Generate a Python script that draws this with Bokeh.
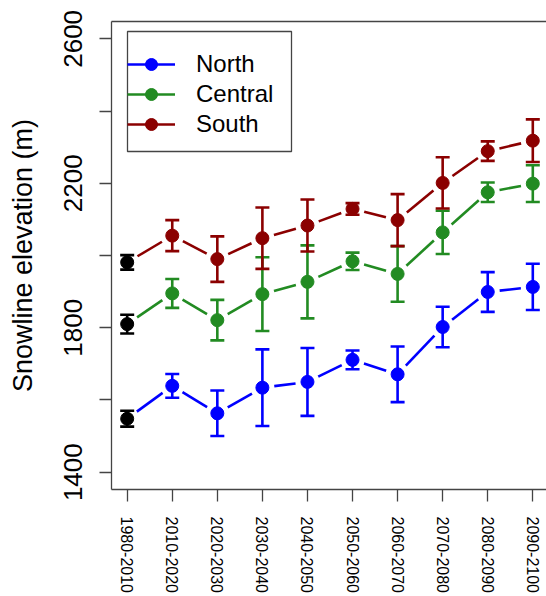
import math
from bokeh.plotting import figure
from bokeh.models import (Range1d, FixedTicker, LinearAxis, Legend, LegendItem,
                          ColumnDataSource, BoxAnnotation)
from bokeh.embed import file_html
from bokeh.resources import INLINE

# ---- data ----
periods = ["1980-2010", "2010-2020", "2020-2030", "2030-2040", "2040-2050",
           "2050-2060", "2060-2070", "2070-2080", "2080-2090", "2090-2100"]
north = [1548, 1639, 1563, 1634, 1650, 1711, 1671, 1802, 1899, 1913]
north_err = [22, 33, 63, 106, 94, 26, 77, 56, 55, 64]
central = [1810, 1895, 1821, 1893, 1927, 1984, 1949, 2064, 2175, 2199]
central_err = [26, 40, 56, 102, 101, 24, 77, 60, 27, 51]
south = [1981, 2055, 1990, 2048, 2083, 2129, 2098, 2201, 2289, 2318]
south_err = [20, 43, 63, 85, 72, 16, 72, 71, 27, 59]
series_names = ["North", "Central", "South"]
series_colors = ["#0000FF", "#228B22", "#8B0000"]
y_ticks = [1400, 1600, 1800, 2000, 2200, 2400, 2600]
y_labeled = [1400, 1800, 2200, 2600]

FONT = "Liberation Sans"
AXC = "#444444"

W, H = 546, 596
BL, BR, BT, BB = 111, 0, 21, 104
FW, FH = W - BL - BR, H - BT - BB
X0, X1 = 0.652, 10.304
Y0, Y1 = 1352, 2648

xs = list(range(1, len(periods) + 1))

p = figure(width=W, height=H, output_backend="svg", toolbar_location=None,
           x_range=Range1d(X0, X1), y_range=Range1d(Y0, Y1),
           min_border_left=BL, min_border_right=BR, min_border_top=BT,
           min_border_bottom=BB, background_fill_color="white",
           border_fill_color="white", outline_line_color=None)
p.xgrid.visible = False
p.ygrid.visible = False

# y axis
ya = p.yaxis[0]
ya.ticker = FixedTicker(ticks=y_ticks)
ya.major_label_overrides = {t: (str(t) if t in y_labeled else "") for t in y_ticks}
ya.major_label_orientation = "vertical"
ya.axis_label = "Snowline elevation (m)"
ya.axis_label_text_font = FONT
ya.axis_label_text_font_style = "normal"
ya.axis_label_text_font_size = "27px"
ya.axis_label_text_color = "black"
ya.axis_label_standoff = 24
ya.major_label_text_font = FONT
ya.major_label_text_font_size = "26px"
ya.major_label_text_color = "black"
ya.major_label_standoff = 17

# x axis
xa = p.xaxis[0]
xa.ticker = FixedTicker(ticks=xs)
xa.major_label_overrides = {i: lab for i, lab in zip(xs, periods)}
xa.major_label_orientation = "vertical"
xa.major_label_text_font = FONT
xa.major_label_text_font_size = "16px"
xa.major_label_text_color = "black"
xa.major_label_standoff = 15

for ax in (ya, xa):
    ax.minor_tick_line_color = None
    ax.major_tick_in = 0
    ax.major_tick_out = 12
    ax.major_tick_line_color = AXC
    ax.major_tick_line_width = 1.3
    ax.axis_line_color = AXC
    ax.axis_line_width = 1.3

top = LinearAxis(ticker=FixedTicker(ticks=[]), major_label_text_font_size="0px",
                 major_tick_out=0, major_tick_in=0, minor_tick_out=0, minor_tick_in=0,
                 axis_line_color=AXC, axis_line_width=1.3)
p.add_layout(top, "above")

all_vals = [north, central, south]
all_errs = [north_err, central_err, south_err]

# pixel scales (for R type="b" gaps between line segments and points)
sxp = FW / (X1 - X0)
syp = FH / (Y1 - Y0)
GAP = 12.0

lines = []
for vals, col in zip(all_vals, series_colors):
    a0, b0, a1, b1 = [], [], [], []
    for i in range(len(xs) - 1):
        dx, dy = xs[i + 1] - xs[i], vals[i + 1] - vals[i]
        L = math.hypot(dx * sxp, dy * syp)
        f = GAP / L
        a0.append(xs[i] + dx * f)
        b0.append(vals[i] + dy * f)
        a1.append(xs[i + 1] - dx * f)
        b1.append(vals[i + 1] - dy * f)
    lines.append(p.segment(x0=a0, y0=b0, x1=a1, y1=b1, line_color=col, line_width=2.6))

markers = []
for vals, errs, col in zip(all_vals, all_errs, series_colors):
    lo = [v - e for v, e in zip(vals, errs)]
    hi = [v + e for v, e in zip(vals, errs)]
    cols = ["black"] + [col] * (len(vals) - 1)
    src = ColumnDataSource(dict(x=xs, lo=lo, hi=hi, c=cols, y=vals))
    p.segment(x0="x", y0="lo", x1="x", y1="hi", line_color="c", line_width=2.6, source=src)
    p.scatter(x="x", y="lo", marker="dash", size=14, line_color="c", line_width=2.6, source=src)
    p.scatter(x="x", y="hi", marker="dash", size=14, line_color="c", line_width=2.6, source=src)
    p.scatter(x=xs[:1], y=vals[:1], marker="circle", size=13, fill_color="black", line_color="black")
    markers.append(p.scatter(x=xs[1:], y=vals[1:], marker="circle", size=13,
                             fill_color=col, line_color=col))

# legend frame (screen units, relative to plot frame)
box = BoxAnnotation(left=16, right=180, top=FH - 13, bottom=FH - 133,
                    left_units="screen", right_units="screen",
                    top_units="screen", bottom_units="screen",
                    fill_color="white", fill_alpha=1.0,
                    line_color=AXC, line_width=1.3, line_alpha=1.0)
p.add_layout(box)

legend = Legend(items=[LegendItem(label=n, renderers=[l, m])
                       for n, l, m in zip(series_names, lines, markers)],
                location=(16, FH - 121), orientation="vertical",
                label_text_font=FONT, label_text_font_size="24px", label_text_color="black",
                glyph_width=48, glyph_height=30, label_height=30, label_standoff=21,
                padding=5, spacing=0, margin=0,
                border_line_color=None, background_fill_alpha=0.0)
p.add_layout(legend, "center")

open("out.html", "w").write(file_html(p, INLINE))
